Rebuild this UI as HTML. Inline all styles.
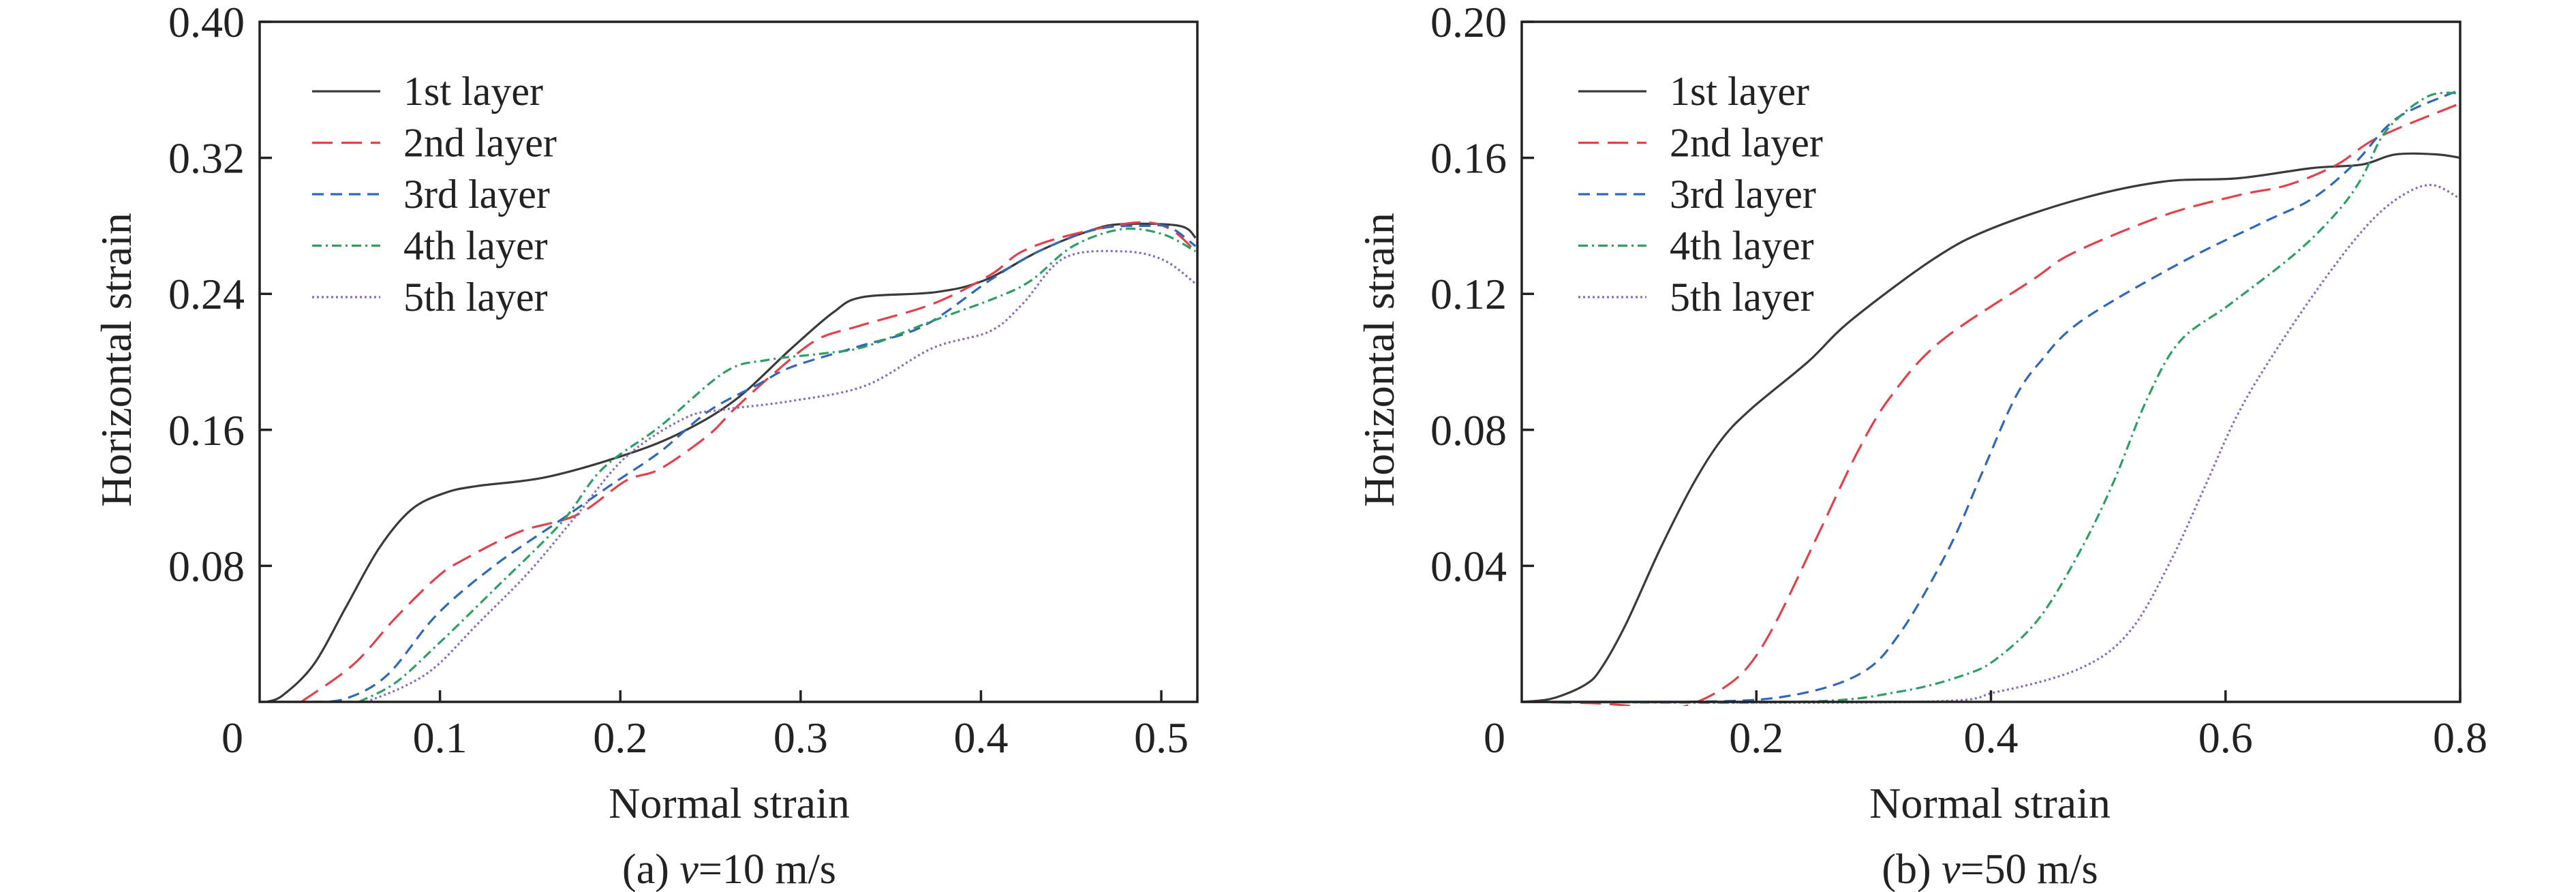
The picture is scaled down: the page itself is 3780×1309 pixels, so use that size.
<!DOCTYPE html>
<html><head><meta charset="utf-8">
<style>
html,body{margin:0;padding:0;background:#fff;}
svg{display:block;font-family:"Liberation Serif",serif;}
</style></head>
<body>
<svg id="fig" width="3780" height="1309" viewBox="0 0 3780 1309" xmlns="http://www.w3.org/2000/svg"></svg>
<script>
// ---- Chart (a) data: v=10 m/s ----
const aXTicks = [0.1, 0.2, 0.3, 0.4, 0.5];
const aXTickLabels = ["0.1", "0.2", "0.3", "0.4", "0.5"];
const aYTicks = [0.08, 0.16, 0.24, 0.32, 0.40];
const aYTickLabels = ["0.08", "0.16", "0.24", "0.32", "0.40"];
const aL1x = [0.004,0.013,0.03,0.048,0.066,0.084,0.103,0.121,0.158,0.199,0.231,0.263,0.295,0.318,0.334,0.375,0.402,0.432,0.460,0.478,0.510,0.519];
const aL1y = [0,0.004,0.022,0.056,0.090,0.113,0.123,0.127,0.132,0.144,0.157,0.177,0.208,0.229,0.238,0.241,0.248,0.265,0.277,0.281,0.280,0.273];
const aL2x = [0.023,0.052,0.075,0.098,0.112,0.144,0.176,0.203,0.222,0.249,0.263,0.286,0.309,0.332,0.373,0.405,0.423,0.451,0.487,0.505,0.519];
const aL2y = [0,0.022,0.049,0.073,0.083,0.100,0.110,0.130,0.137,0.157,0.172,0.194,0.213,0.221,0.234,0.251,0.265,0.275,0.282,0.278,0.265];
const aL3x = [0.029,0.048,0.071,0.098,0.130,0.167,0.194,0.222,0.249,0.277,0.295,0.332,0.368,0.405,0.432,0.464,0.492,0.505,0.519];
const aL3y = [0,0.002,0.016,0.051,0.080,0.107,0.127,0.147,0.171,0.187,0.197,0.209,0.221,0.248,0.265,0.278,0.280,0.279,0.268];
const aL4x = [0.055,0.075,0.098,0.130,0.167,0.190,0.222,0.258,0.281,0.313,0.336,0.373,0.409,0.428,0.451,0.478,0.501,0.519];
const aL4y = [0,0.011,0.033,0.066,0.105,0.137,0.162,0.194,0.201,0.205,0.209,0.224,0.238,0.248,0.268,0.278,0.275,0.265];
const aL5x = [0.059,0.080,0.098,0.121,0.149,0.176,0.203,0.236,0.258,0.295,0.336,0.373,0.405,0.423,0.446,0.478,0.501,0.519];
const aL5y = [0,0.009,0.021,0.046,0.076,0.110,0.144,0.167,0.172,0.177,0.186,0.208,0.218,0.234,0.261,0.265,0.260,0.246];

// ---- Chart (b) data: v=50 m/s ----
const bXTicks = [0.2, 0.4, 0.6, 0.8];
const bXTickLabels = ["0.2", "0.4", "0.6", "0.8"];
const bYTicks = [0.04, 0.08, 0.12, 0.16, 0.20];
const bYTickLabels = ["0.04", "0.08", "0.12", "0.16", "0.20"];
const bL1x = [0,0.026,0.054,0.068,0.089,0.118,0.146,0.170,0.195,0.244,0.280,0.350,0.399,0.477,0.547,0.611,0.674,0.716,0.745,0.780,0.8];
const bL1y = [0,0.001,0.005,0.010,0.023,0.045,0.064,0.077,0.086,0.100,0.112,0.130,0.139,0.148,0.153,0.154,0.157,0.158,0.161,0.161,0.160];
const bL2x = [0,0.068,0.118,0.139,0.167,0.192,0.216,0.251,0.287,0.315,0.357,0.435,0.470,0.547,0.611,0.653,0.695,0.730,0.8];
const bL2y = [0,-0.0005,-0.002,-0.0013,0.003,0.010,0.023,0.048,0.074,0.090,0.106,0.124,0.132,0.143,0.149,0.152,0.158,0.166,0.176];
const bL3x = [0,0.139,0.223,0.287,0.322,0.364,0.392,0.420,0.442,0.477,0.561,0.632,0.674,0.709,0.737,0.758,0.8];
const bL3y = [0,0,0.0015,0.008,0.020,0.045,0.067,0.089,0.100,0.112,0.129,0.141,0.148,0.158,0.169,0.174,0.180];
const bL4x = [0,0.237,0.322,0.378,0.406,0.442,0.477,0.505,0.533,0.561,0.604,0.660,0.695,0.716,0.737,0.772,0.8];
const bL4y = [0,0,0.003,0.008,0.013,0.025,0.045,0.065,0.089,0.106,0.117,0.132,0.144,0.154,0.168,0.178,0.179];
const bL5x = [0,0.336,0.406,0.477,0.519,0.554,0.582,0.611,0.646,0.688,0.723,0.751,0.776,0.8];
const bL5y = [0,0,0.003,0.010,0.021,0.042,0.063,0.085,0.105,0.126,0.141,0.149,0.152,0.148];

const layerNames = ["1st layer","2nd layer","3rd layer","4th layer","5th layer"];
const NS = "http://www.w3.org/2000/svg";
const svg = document.getElementById('fig');
const styles = [
  {c:"#3a3a3a", d:""},
  {c:"#e5404a", d:"30,13"},
  {c:"#2f68b8", d:"17,10"},
  {c:"#2e9e63", d:"14,6,3,6"},
  {c:"#8a6cbf", d:"3,4"}
];
function mk(tag, attrs, parent){
  const e = document.createElementNS(NS, tag);
  for (const k in attrs) e.setAttribute(k, attrs[k]);
  (parent||svg).appendChild(e);
  return e;
}
function smooth(pts){
  let d = "M"+pts[0][0].toFixed(1)+","+pts[0][1].toFixed(1);
  for (let i=0;i<pts.length-1;i++){
    const p0=pts[Math.max(0,i-1)], p1=pts[i], p2=pts[i+1], p3=pts[Math.min(pts.length-1,i+2)];
    const c1=[p1[0]+(p2[0]-p0[0])/6, p1[1]+(p2[1]-p0[1])/6];
    const c2=[p2[0]-(p3[0]-p1[0])/6, p2[1]-(p3[1]-p1[1])/6];
    d+=" C"+c1[0].toFixed(1)+","+c1[1].toFixed(1)+" "+c2[0].toFixed(1)+","+c2[1].toFixed(1)+" "+p2[0].toFixed(1)+","+p2[1].toFixed(1);
  }
  return d;
}
function chart(cfg){
  const g = mk('g', {});
  
  
  const L=cfg.left,R=cfg.right,T=32,B=1030;
  const xs = v => L + v/cfg.xmax*(R-L);
  const ys = v => B - v/cfg.ymax*(B-T);
  const cp = mk('clipPath', {id:cfg.id+'-clip'}, g);
  mk('rect', {x:L,y:T,width:R-L,height:B-T+6}, cp);
  const sg = mk('g', {'clip-path':'url(#'+cfg.id+'-clip)'}, g);
  cfg.series.forEach((s,i)=>{
    const pts = s[0].map((x,j)=>[xs(x), ys(s[1][j])]);
    const p = mk('path', {d:smooth(pts), fill:'none', stroke:styles[i].c, 'stroke-width':3.2, 'stroke-dasharray':styles[i].d, 'stroke-linejoin':'round'}, sg);
    
    
  });
  const fr = mk('rect', {x:L,y:T,width:R-L,height:B-T,fill:'none',stroke:'#222','stroke-width':3.5}, g);
  
  
  cfg.xt.forEach((v,i)=>{
    const X=xs(v);
    mk('line',{x1:X,y1:B,x2:X,y2:B-17,stroke:'#222','stroke-width':3.5},g);
    const t = mk('text',{x:X,y:1104,'text-anchor':'middle','font-size':64,fill:'#222'},g);
    t.textContent = cfg.xl[i];
    
    
  });
  const z = mk('text',{x:L-40,y:1104,'text-anchor':'middle','font-size':64,fill:'#222'},g);
  z.textContent = "0";
  
  
  cfg.yt.forEach((v,i)=>{
    const Y=ys(v);
    mk('line',{x1:L,y1:Y,x2:L+18,y2:Y,stroke:'#222','stroke-width':3.5},g);
    const t = mk('text',{x:L-22,y:Y+22,'text-anchor':'end','font-size':64,fill:'#222'},g);
    t.textContent = cfg.yl[i];
    
    
  });
  const yt = mk('text',{x:0,y:0,'text-anchor':'middle','font-size':64,fill:'#222',transform:'translate('+(cfg.ytx)+',528) rotate(-90)'},g);
  yt.textContent = "Horizontal strain";
  
  
  const xt = mk('text',{x:cfg.xcx,y:1200,'text-anchor':'middle','font-size':64,fill:'#222'},g);
  xt.textContent = "Normal strain";
  
  
  const cap = mk('text',{x:cfg.xcx,y:1296,'text-anchor':'middle','font-size':62,fill:'#222'},g);
  cap.innerHTML = cfg.cap1 + '<tspan font-style="italic">v</tspan>' + cfg.cap2;
  
  
  const lg = mk('g', {}, g);
  
  
  layerNames.forEach((n,i)=>{
    const Y = 134 + i*75.5;
    const e = mk('g', {}, lg);
    
    
    mk('line',{x1:cfg.lx,y1:Y,x2:cfg.lx+100,y2:Y,stroke:styles[i].c,'stroke-width':3.2,'stroke-dasharray':styles[i].d},e);
    const t = mk('text',{x:cfg.lx+134,y:Y+20,'font-size':60,fill:'#222'},e);
    t.textContent = n;
  });
}
chart({id:'chart-a', left:381, right:1757, xmax:0.52, ymax:0.40,
  xt:aXTicks, xl:aXTickLabels, yt:aYTicks, yl:aYTickLabels,
  series:[[aL1x,aL1y],[aL2x,aL2y],[aL3x,aL3y],[aL4x,aL4y],[aL5x,aL5y]],
  ytx:192, xcx:1070, lx:458, cap1:'(a) ', cap2:'=10 m/s'});
chart({id:'chart-b', left:2233, right:3610, xmax:0.8, ymax:0.20,
  xt:bXTicks, xl:bXTickLabels, yt:bYTicks, yl:bYTickLabels,
  series:[[bL1x,bL1y],[bL2x,bL2y],[bL3x,bL3y],[bL4x,bL4y],[bL5x,bL5y]],
  ytx:2045, xcx:2920, lx:2316, cap1:'(b) ', cap2:'=50 m/s'});
</script>
</body></html>
